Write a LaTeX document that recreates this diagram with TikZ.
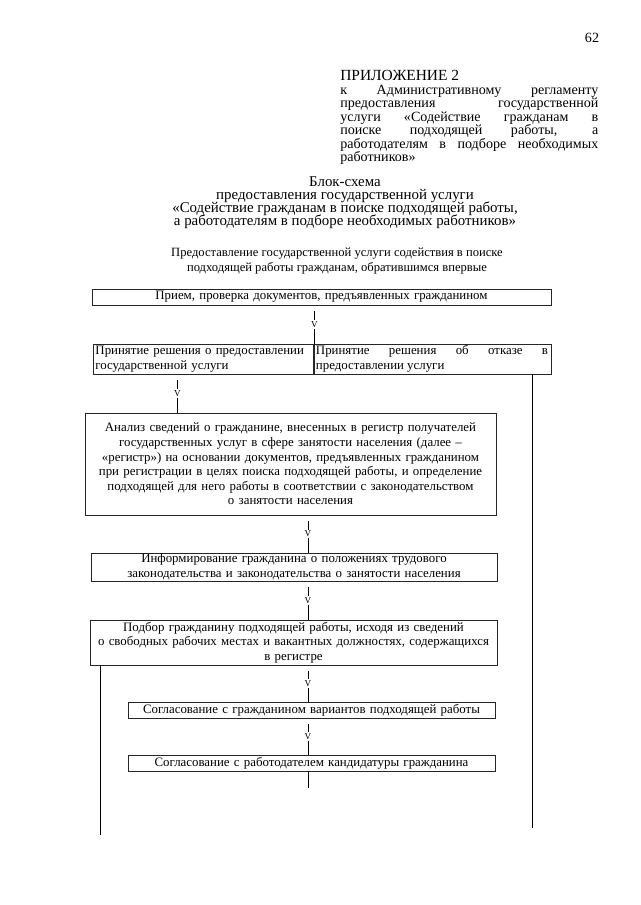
\documentclass[tikz,border=0pt]{standalone}
\usepackage{fontspec}
\setmainfont{Liberation Serif}
\usepackage{tikz}
\usetikzlibrary{positioning,calc}
\newcommand{\boxfont}{\fontsize{9.15}{10.4}\selectfont}
\newcommand{\headfont}{\fontsize{10}{9.6}\selectfont}
\newcommand{\titlefont}{\fontsize{10.6}{9.3}\selectfont\lineskiplimit=-4pt}
\newcommand{\subfont}{\fontsize{8.95}{11.3}\selectfont}
\tikzset{
  stepbox/.style={rectangle,draw=black!85,line width=0.5pt,inner sep=0pt,
    align=center,font=\boxfont},
  vline/.style={draw=black,line width=0.6pt,shorten <=4pt},
  vmark/.style={fill=white,inner sep=1pt,font=\fontsize{6.5}{7}\selectfont},
  endline/.style={draw=black,line width=0.7pt}
}

\begin{document}
\begin{tikzpicture}[x=0.025cm,y=-0.025cm]
  \useasboundingbox (0,0) rectangle (640,905);
  % header
  \node[font=\headfont] (pagenum) at (592,38) {62};
  \node[anchor=north west,text width=6.45cm,align=justify,inner sep=0pt,font=\headfont] (annex) at (340,70)
    {{\fontsize{11}{9.6}\selectfont ПРИЛОЖЕНИЕ 2}\\ к Административному регламенту\linebreak предоставления государственной\linebreak
     услуги «Содействие гражданам в\linebreak поиске подходящей работы, а\linebreak
     работодателям в подборе необходимых\linebreak работников»};
  \node[align=center,font=\titlefont] (title) at (345,203)
    {Блок-схема\\ предоставления государственной услуги\\
     «Содействие гражданам в поиске подходящей работы,\\
     а работодателям в подборе необходимых работников»};
  \node[align=center,font=\subfont] (service) at (337,261)
    {Предоставление государственной услуги содействия в поиске\\
     подходящей работы гражданам, обратившимся впервые};
  % boxes
  \node[stepbox,minimum width=11.475cm,minimum height=0.4cm,text width=11.3cm] (accept) at (321.5,297)
    {Прием, проверка документов, предъявленных гражданином};
  \node[stepbox,minimum width=5.525cm,minimum height=0.75cm,text width=5.4cm,align=left] (grant) at (203.5,359)
    {Принятие решения о предоставлении\\ государственной услуги};
  \node[stepbox,minimum width=5.95cm,minimum height=0.75cm,text width=5.8cm,align=justify] (refuse) at (432,359)
    {Принятие решения об отказе в\linebreak предоставлении услуги};
  \node[stepbox,minimum width=10.275cm,minimum height=2.55cm,text width=10.2cm] (analysis) at (290.5,464)
    {Анализ сведений о гражданине, внесенных в регистр получателей\\
     государственных услуг в сфере занятости населения (далее --\\
     «регистр») на основании документов, предъявленных гражданином\\
     при регистрации в целях поиска подходящей работы, и определение\\
     подходящей для него работы в соответствии с законодательством\\
     о занятости населения};
  \node[stepbox,minimum width=10.15cm,minimum height=0.7cm,text width=10.1cm] (inform) at (294,567)
    {Информирование гражданина о положениях трудового\\
     законодательства и законодательства о занятости населения};
  \node[stepbox,minimum width=10.175cm,minimum height=1.125cm,text width=10.15cm] (select) at (293.5,642.5)
    {Подбор гражданину подходящей работы, исходя из сведений\\
     о свободных рабочих местах и вакантных должностях, содержащихся\\
     в регистре};
  \node[stepbox,minimum width=9.175cm,minimum height=0.4cm,text width=9.1cm] (agree) at (311.5,710)
    {Согласование с гражданином вариантов подходящей работы};
  \node[stepbox,minimum width=9.175cm,minimum height=0.4cm,text width=9.1cm] (employer) at (311.5,763)
    {Согласование с работодателем кандидатуры гражданина};
  % connectors
  \coordinate (axis) at (308,0);
  \draw[vline] (grant.north east |- accept.south) -- node[vmark] {V} (grant.north east);
  \draw[vline] ([xshift=-0.65cm]grant.south) -- node[vmark] {V} ([xshift=-0.65cm]grant.south |- analysis.north);
  \draw[vline] (axis |- analysis.south) -- node[vmark] {V} (axis |- inform.north);
  \draw[vline] (axis |- inform.south) -- node[vmark] {V} (axis |- select.north);
  \draw[vline] (axis |- select.south) -- node[vmark] {V} (axis |- agree.north);
  \draw[vline] (axis |- agree.south) -- node[vmark] {V} (axis |- employer.north);
  \coordinate (tail) at (308,788);
  \draw[endline] (axis |- employer.south) -- (tail);
  \coordinate (refuseend) at (532,828);
  \draw[endline] (refuseend |- refuse.south) -- (refuseend);
  \coordinate (selectend) at (100,835);
  \draw[endline] (selectend |- select.south) -- (selectend);
\end{tikzpicture}
\end{document}
